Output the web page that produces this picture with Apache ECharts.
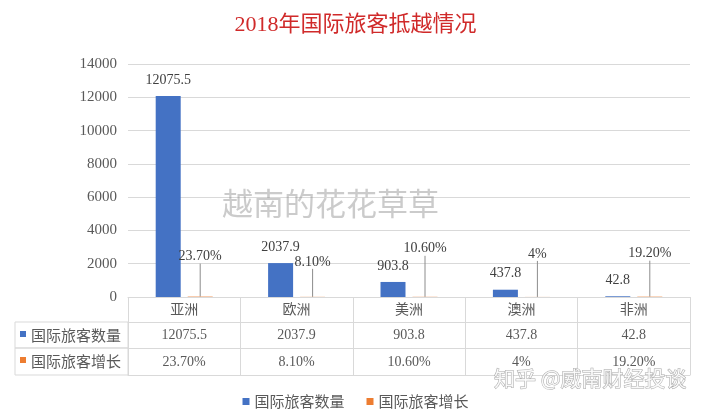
<!DOCTYPE html>
<html>
<head>
<meta charset="utf-8">
<script src="https://cdn.jsdelivr.net/npm/echarts@6/dist/echarts.min.js"></script>
<style>
  html, body { margin: 0; padding: 0; background: #fff; }
  #chart_1 { width: 711px; height: 412px; }
</style>
</head>
<body>
<div id="chart_1"></div>
<script>
var regions = ['亚洲', '欧洲', '美洲', '澳洲', '非洲'];
var visitors = [12075.5, 2037.9, 903.8, 437.8, 42.8];
var growth = [23.7, 8.1, 10.6, 4, 19.2];
var growthText = ['23.70%', '8.10%', '10.60%', '4%', '19.20%'];
var yTicks = [0, 2000, 4000, 6000, 8000, 10000, 12000, 14000];

// how far each growth label sits above its bar (px)
var growthLift = [33, 28, 41, 36, 36];

var serif = "'Liberation Serif', 'Noto Sans CJK SC', serif";
var cjk = "'Noto Sans CJK SC', sans-serif";
var gridColor = '#d9d9d9';
var textColor = '#595959';

var dom = document.getElementById('chart_1');
var myChart = echarts.init(dom);

function tableAxis(names, offset, tickLen, margin, showLine) {
	return {
		type: 'category',
		data: names,
		position: 'bottom',
		offset: offset,
		axisLine: { show: showLine !== false, lineStyle: { color: gridColor } },
		axisTick: { show: tickLen > 0, length: tickLen, lineStyle: { color: gridColor } },
		axisLabel: {
			show: names.length > 0,
			margin: margin,
			color: textColor,
			fontSize: 14,
			fontFamily: serif
		}
	};
}

var option = {
	backgroundColor: '#ffffff',
	title: {
		text: '2018年国际旅客抵越情况',
		left: 'center',
		top: 9,
		textStyle: {
			color: '#d02a2a',
			fontSize: 22,
			fontWeight: 'normal',
			fontFamily: serif
		}
	},
	legend: {
		top: 389,
		left: 'center',
		itemWidth: 7,
		itemHeight: 7,
		itemGap: 22,
		icon: 'rect',
		textStyle: { color: textColor, fontSize: 15, fontFamily: cjk },
		data: ['国际旅客数量', '国际旅客增长']
	},
	grid: { left: 128, right: 21, top: 64, height: 233 },
	xAxis: [
		tableAxis(regions, 0, 25, 6),
		tableAxis(visitors.map(String), 25, 26, 6),
		tableAxis(growthText, 51, 27, 7),
		tableAxis([], 78, 0, 0)
	],
	yAxis: {
		type: 'value',
		min: yTicks[0],
		max: yTicks[yTicks.length - 1],
		interval: 2000,
		axisLine: { show: false },
		axisTick: { show: false },
		splitLine: { lineStyle: { color: gridColor } },
		axisLabel: {
			color: textColor,
			fontSize: 15,
			fontFamily: serif,
			margin: 11,
			formatter: function (v) { return String(v); }
		}
	},
	graphic: [
		{ type: 'rect', shape: { x: 15, y: 322, width: 113, height: 26 },
		  style: { fill: 'none', stroke: gridColor } },
		{ type: 'rect', shape: { x: 15, y: 348, width: 113, height: 27 },
		  style: { fill: 'none', stroke: gridColor } },
		{ type: 'rect', shape: { x: 20, y: 331, width: 6, height: 6 }, style: { fill: '#4472c4' } },
		{ type: 'rect', shape: { x: 20, y: 357, width: 6, height: 6 }, style: { fill: '#ed7d31' } },
		{ type: 'text', x: 31, y: 335, style: { text: '国际旅客数量', fill: textColor, font: '15px ' + cjk, verticalAlign: 'middle' } },
		{ type: 'text', x: 31, y: 361, style: { text: '国际旅客增长', fill: textColor, font: '15px ' + cjk, verticalAlign: 'middle' } },
		{ type: 'text', x: 222, y: 203, z: 10,
		  style: { text: '越南的花花草草', fill: 'rgba(140,140,140,0.45)', font: '31px ' + cjk, verticalAlign: 'middle' } },
		{ type: 'text', x: 494, y: 378, z: 10,
		  style: { text: '知乎 @威南财经投谈', fill: 'rgba(255,255,255,0.85)', stroke: '#a8a8a8', lineWidth: 1,
		           font: '21px ' + cjk, verticalAlign: 'middle' } }
	],
	series: [
		{
			name: '国际旅客数量',
			type: 'bar',
			data: visitors,
			barWidth: 25,
			barGap: '28%',
			itemStyle: { color: '#4472c4' },
			label: {
				show: true,
				position: 'top',
				distance: 9,
				color: '#404040',
				fontSize: 14,
				fontFamily: serif
			}
		},
		{
			name: '国际旅客增长',
			type: 'bar',
			data: growth,
			barWidth: 25,
			itemStyle: { color: '#ed7d31' },
			label: {
				show: true,
				position: 'top',
				distance: 0,
				color: '#404040',
				fontSize: 14,
				fontFamily: serif,
				formatter: function (p) { return growthText[p.dataIndex]; }
			},
			labelLayout: function (p) {
				return { dy: -growthLift[p.dataIndex] };
			},
			labelLine: { show: true, lineStyle: { color: '#8c8c8c', width: 1 } }
		}
	]
};

myChart.setOption(option, true);
</script>
</body>
</html>
